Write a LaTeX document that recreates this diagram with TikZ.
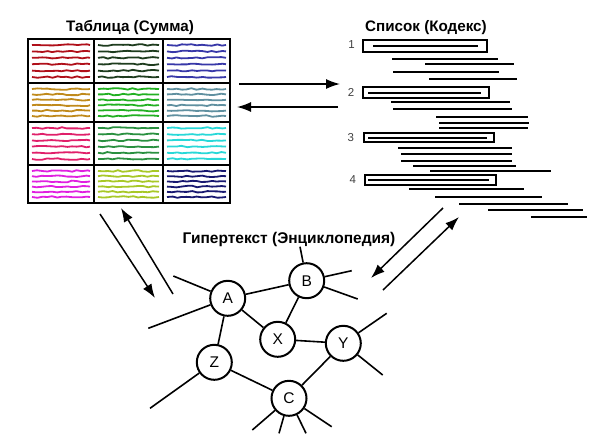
\documentclass[tikz,border=0pt]{standalone}
\usepackage{fontspec}
\setmainfont{Liberation Sans}
\usetikzlibrary{arrows.meta,decorations.pathmorphing}

\definecolor{tabred}{HTML}{B0101A}
\definecolor{tabdkgreen}{HTML}{1E3C1E}
\definecolor{tabblue}{HTML}{3838A8}
\definecolor{tabochre}{HTML}{C08A1C}
\definecolor{tabgreen}{HTML}{22B022}
\definecolor{tabslate}{HTML}{6090A0}
\definecolor{tabcrimson}{HTML}{E0206A}
\definecolor{tabmidgreen}{HTML}{2A9040}
\definecolor{tabcyan}{HTML}{28D8D8}
\definecolor{tabmagenta}{HTML}{E020E0}
\definecolor{tabolive}{HTML}{A8C828}
\definecolor{tabnavy}{HTML}{181870}

\begin{document}
\begin{tikzpicture}[
        x=1pt, y=-1pt,
        every path/.style={>={Latex[length=14pt,width=10pt]}},
        inner sep=0pt,
        line width=2pt,
        font=\fontsize{15.5}{17}\selectfont,
        vertex/.style={draw,circle,minimum size=35pt,fill=white},
        heading/.style={font=\fontsize{15.2}{17}\selectfont\bfseries,anchor=base},
        entry/.style={font=\fontsize{11.5}{13}\selectfont,text=black!75},
        scribble/.style={line width=1.8pt,decorate,
            decoration={random steps,segment length=5pt,amplitude=0.8pt}},
        flow/.style={->,line width=1.5pt},
        link/.style={line width=1.6pt}
        ]
        \pgfmathsetseed{11}
        \useasboundingbox (0,0) rectangle (589,445);

        % titles
        \node[heading] (sum)   at (130,31.5) {Таблица (Сумма)};
        \node[heading] (codex) at (426,31.5) {Список (Кодекс)};
        \node[heading,font=\fontsize{15.5}{17}\selectfont\bfseries] (hyper) at (289,243) {Гипертекст (Энциклопедия)};

        % table
        \foreach \l/\t/\r/\b/\c in {28/39/94/83/tabred, 94/39/163/83/tabdkgreen, 163/39/230/83/tabblue,
                                    28/83/94/122/tabochre, 94/83/163/122/tabgreen, 163/83/230/122/tabslate,
                                    28/122/94/165/tabcrimson, 94/122/163/165/tabmidgreen, 163/122/230/165/tabcyan,
                                    28/165/94/203/tabmagenta, 94/165/163/203/tabolive, 163/165/230/203/tabnavy}
            \foreach \k in {0,...,5}
                \draw[scribble,\c] (\l+4,{\t+6+\k*(\b-\t-12)/5}) -- (\r-4,{\t+6+\k*(\b-\t-12)/5});

        \draw (28,39) rectangle (230,203);
        \foreach \x in {94,163} \draw (\x,39) -- (\x,203);
        \foreach \y in {83,122,165} \draw (28,\y) -- (230,\y);

        % list
        \node[entry] (n1) at (351.5,45)  {1};
        \node[entry] (n2) at (351,92)    {2};
        \node[entry] (n3) at (350.7,138) {3};
        \node[entry] (n4) at (352.7,179.5) {4};

        \draw (363,40) rectangle (487,52);   \draw (373,46) -- (478,46);
        \draw (363,87) rectangle (489,98);   \draw (368,92.5) -- (481,92.5);
        \draw (364,133) rectangle (494,142); \draw (368,137.5) -- (487,137.5);
        \draw (365,175) rectangle (496,185); \draw (368,179.5) -- (489,179.5);

        \foreach \y/\a/\b in {58.7/392/498, 64/425/514, 72/393/499, 78.7/429/517,
                              102.3/391/510, 109.3/393/512, 117.3/436/528, 122.7/439/529, 127.7/439/528,
                              147.7/398/512, 154/401/512, 160.7/401/512, 165.7/413/516, 170.7/430/551,
                              189/409/524, 196.7/435/542, 203.7/459/568, 210.3/488/583, 216.8/531/587}
            \draw[line width=1.8pt] (\a,\y) -- (\b,\y);

        % arrows
        \coordinate (t1) at (239,84);   \coordinate (l1) at (340,84);
        \coordinate (l2) at (338,107);  \coordinate (t2) at (237,107);
        \coordinate (t3) at (100,214);  \coordinate (h1) at (155,298);
        \coordinate (h2) at (173,294);  \coordinate (t4) at (121,208);
        \coordinate (l3) at (443,208);  \coordinate (h3) at (371,278);
        \coordinate (h4) at (383,290);  \coordinate (l4) at (459,217);

        \draw[flow] (t1) -- (l1);
        \draw[flow] (l2) -- (t2);
        \draw[flow] (t3) -- (h1);
        \draw[flow] (h2) -- (t4);
        \draw[flow] (l3) -- (h3);
        \draw[flow] (h4) -- (l4);

        % nodes
        \node[vertex] (A) at (227.7,298.3) {A};
        \node[vertex] (B) at (306.7,280.7) {B};
        \node[vertex] (X) at (277.7,339.3) {X};
        \node[vertex] (Y) at (343.3,343.3) {Y};
        \node[vertex] (Z) at (214.3,362.3) {Z};
        \node[vertex] (C) at (289,398.3)   {C};

        % loose ends
        \coordinate (a1) at (173.3,276);  \coordinate (a2) at (148.3,328.3);
        \coordinate (b1) at (300,246.7);  \coordinate (b2) at (351.7,270.7);
        \coordinate (b3) at (357.7,299);
        \coordinate (y1) at (386.7,313.3); \coordinate (y2) at (382.7,375);
        \coordinate (z1) at (150,408.3);
        \coordinate (c1) at (252.3,430);  \coordinate (c2) at (279,433.3);
        \coordinate (c3) at (306,433.3);  \coordinate (c4) at (331.7,426.7);

        % edges
        \draw[link] (A) -- (B);
        \draw[link] (A) -- (X);
        \draw[link] (A) -- (Z);
        \draw[link] (B) -- (X);
        \draw[link] (X) -- (Y);
        \draw[link] (Z) -- (C);
        \draw[link] (Y) -- (C);

        \draw[link] (A) -- (a1);  \draw[link] (A) -- (a2);
        \draw[link] (B) -- (b1);  \draw[link] (B) -- (b2);  \draw[link] (B) -- (b3);
        \draw[link] (Y) -- (y1);  \draw[link] (Y) -- (y2);
        \draw[link] (Z) -- (z1);
        \draw[link] (C) -- (c1);  \draw[link] (C) -- (c2);
        \draw[link] (C) -- (c3);  \draw[link] (C) -- (c4);

    \end{tikzpicture}
\end{document}
